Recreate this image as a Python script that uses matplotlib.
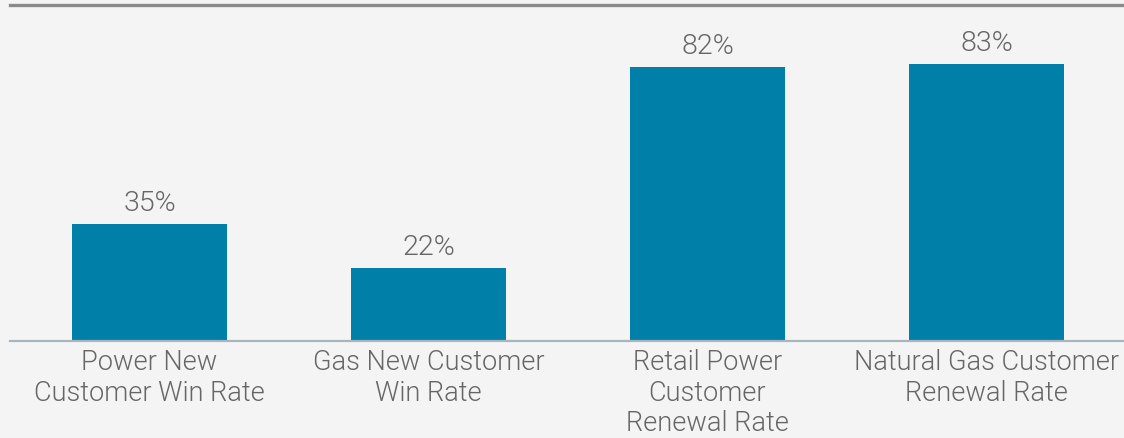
import matplotlib.pyplot as plt

categories = ['Power New\nCustomer Win Rate', 'Gas New Customer\nWin Rate',
              'Retail Power\nCustomer\nRenewal Rate', 'Natural Gas Customer\nRenewal Rate']
rates = [35, 22, 82, 83]
value_labels = ['35%', '22%', '82%', '83%']

plt.rcParams['font.family'] = ['Roboto', 'DejaVu Sans']

fig = plt.figure(figsize=(11.24, 4.38), dpi=100, facecolor='#f4f4f5')
ax = fig.add_axes([0.0089, 0.2215, 0.9911, 0.767])
ax.set_facecolor('#f4f4f5')

x = list(range(len(categories)))
bars = ax.bar(x, rates, width=0.556, color='#0080a8', zorder=2)

for xi, r, lab in zip(x, rates, value_labels):
    ax.annotate(lab, (xi, r), xytext=(0, 5), textcoords='offset points',
                ha='center', va='bottom', fontsize=20.5, color='#666666', fontweight=300)

ax.set_xlim(-0.5, 3.493)
ax.set_ylim(0, 100.6)
ax.set_xticks(x)
ax.set_xticklabels(categories, fontsize=19.5, color='#666666', fontweight=300, linespacing=1.17)
ax.tick_params(axis='x', length=0, pad=6)
ax.set_yticks([])

for s in ['left', 'right']:
    ax.spines[s].set_visible(False)
ax.spines['top'].set_color('#8a8a8c')
ax.spines['top'].set_linewidth(2.4)
ax.spines['bottom'].set_color('#a9b5bd')
ax.spines['bottom'].set_linewidth(1.6)

fig.savefig('out.png', dpi=100, facecolor=fig.get_facecolor())
